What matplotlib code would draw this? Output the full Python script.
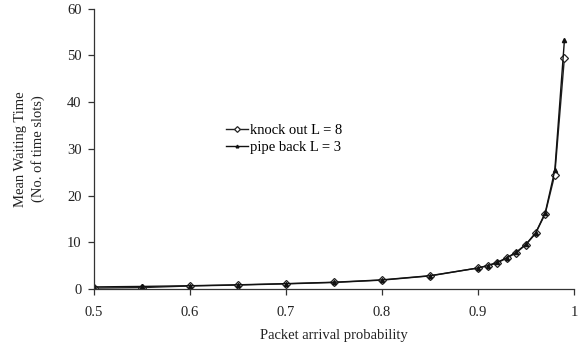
import matplotlib.pyplot as plt

plt.rcParams['font.family'] = ['Liberation Serif', 'DejaVu Serif']

# packet arrival probability
p = [0.5, 0.55, 0.6, 0.65, 0.7, 0.75, 0.8, 0.85, 0.9, 0.91, 0.92, 0.93,
     0.94, 0.95, 0.96, 0.97, 0.98, 0.99]

# mean waiting time (time slots)
knock_out = [0.2, 0.3, 0.65, 0.85, 1.1, 1.4, 1.9, 2.8, 4.5, 5.0, 5.6, 6.6,
             7.8, 9.5, 11.9, 16.1, 24.5, 49.5]
pipe_back = [0.45, 0.55, 0.7, 0.9, 1.15, 1.45, 1.95, 2.85, 4.5, 5.0, 5.7, 6.7,
             7.9, 9.6, 12.0, 16.3, 25.4, 53.2]

fig = plt.figure(figsize=(5.81, 3.5), dpi=100)
ax = fig.add_axes([94 / 581, 1 - 289 / 350, 480 / 581, 280.3 / 350])

ax.plot(p, knock_out, color='#222222', lw=1.0, marker='D', ms=4.5,
        mfc='white', mec='#222222', mew=0.9, label='knock out L = 8')
ax.plot(p, pipe_back, color='#111111', lw=1.0, marker='^', ms=3,
        mfc='#111111', mec='#111111', label='pipe back L = 3')

ax.set_xlim(0.5, 1)
ax.set_ylim(0, 60)
ax.set_xticks([0.5, 0.6, 0.7, 0.8, 0.9, 1.0])
ax.set_xticklabels(['0.5', '0.6', '0.7', '0.8', '0.9', '1'])
ax.set_yticks(range(0, 61, 10))

for s in ['top', 'right']:
    ax.spines[s].set_visible(False)
for s in ['left', 'bottom']:
    ax.spines[s].set_color('#333333')
    ax.spines[s].set_linewidth(0.9)
ax.tick_params(direction='out', length=4, width=0.9, color='#333333',
               labelsize=10.5, labelcolor='#222222')
ax.tick_params(axis='x', pad=8)
ax.tick_params(axis='y', pad=5)

ax.set_xlabel('Packet arrival probability', fontsize=10.5, color='#222222')
ax.xaxis.set_label_coords(0.5, -0.143)
ax.set_ylabel('Mean Waiting Time\n(No. of time slots)', fontsize=10.5,
              color='#222222', linespacing=1.35)
ax.yaxis.set_label_coords(-0.102, 0.5)

ax.legend(loc='center left', bbox_to_anchor=(0.276, 0.535), frameon=False,
          fontsize=10.5, handlelength=1.45, handletextpad=0.15, borderpad=0,
          borderaxespad=0, labelspacing=0.25, markerscale=0.65)

fig.savefig('out.png', dpi=100)
